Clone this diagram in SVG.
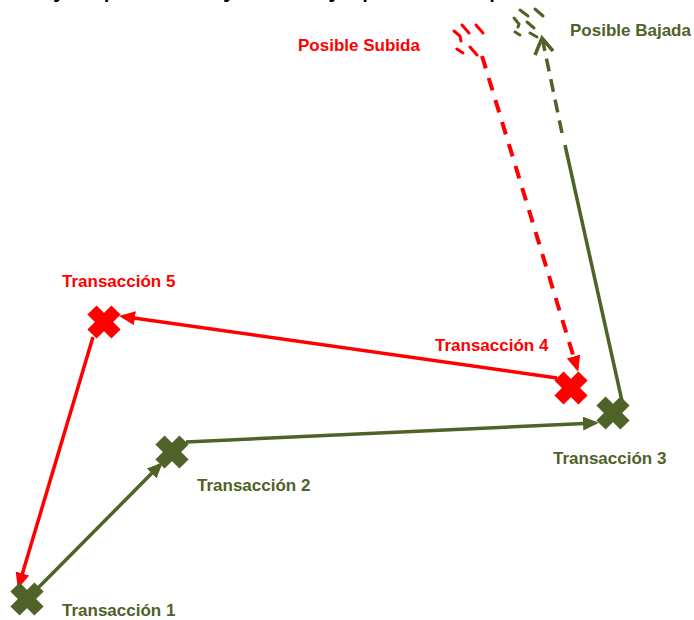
<svg xmlns="http://www.w3.org/2000/svg" width="694" height="620" viewBox="0 0 694 620">
<style>
.lbl{font-family:"Liberation Sans",Arial,sans-serif;font-weight:bold;font-size:17px}
.red{fill:#FF0000}
.grn{fill:#4F6228}
.sr{stroke:#FF0000;fill:none}
.sg{stroke:#4F6228;fill:none}
.title{font-family:"Liberation Sans",Arial,sans-serif;font-size:30px;fill:#000}
</style>
<defs>
<marker id="ar" markerUnits="userSpaceOnUse" markerWidth="17" markerHeight="15" refX="12" refY="7" orient="auto">
<path d="M0,0 L16,7 L0,14 z" fill="#FF0000"/>
</marker>
<marker id="ag" markerUnits="userSpaceOnUse" markerWidth="17" markerHeight="15" refX="12" refY="7" orient="auto">
<path d="M0,0 L16,7 L0,14 z" fill="#4F6228"/>
</marker>
<g id="xm">
<line x1="-12" y1="-12" x2="12" y2="12" stroke-width="13"/>
<line x1="-12" y1="12" x2="12" y2="-12" stroke-width="13"/>
</g>
</defs>
<text class="title" x="35" y="-4">Ejemplo de flujo de caja para una posición abierta de tasas</text>
<g id="connectors">
<line class="sg" x1="38" y1="588" x2="160" y2="465" stroke-width="3.5" marker-end="url(#ag)"/>
<line class="sg" x1="186" y1="442" x2="595" y2="423" stroke-width="3.5" marker-end="url(#ag)"/>
<line class="sg" x1="622" y1="401" x2="565" y2="145" stroke-width="3.5"/>
<line class="sg" x1="562" y1="133" x2="543" y2="42" stroke-width="3.5" stroke-dasharray="13 8"/>
<polyline class="sg" points="535,55 542,38 553,51" stroke-width="3.5"/>
<g class="sg" stroke-width="3" stroke-linecap="round">
<line x1="520" y1="10" x2="528" y2="16"/>
<line x1="535" y1="9" x2="543" y2="16"/>
<polyline points="514,18 519,24 518,27"/>
<line x1="527" y1="22" x2="534" y2="28"/>
<line x1="515" y1="32" x2="520" y2="35"/>
<line x1="530" y1="33" x2="537" y2="37"/>
</g>
<line class="sr" x1="482" y1="56" x2="577" y2="368" stroke-width="4" stroke-dasharray="13 10" marker-end="url(#ar)"/>
<g class="sr" stroke-width="3" stroke-linecap="round">
<polyline points="454,31 460,36 461,41"/>
<line x1="462" y1="25" x2="469" y2="33"/>
<line x1="476" y1="25" x2="483" y2="33"/>
<line x1="457" y1="49" x2="463" y2="53"/>
<line x1="470" y1="47" x2="477" y2="55"/>
</g>
<line class="sr" x1="557" y1="378" x2="123" y2="316.5" stroke-width="3.5" marker-end="url(#ar)"/>
<line class="sr" x1="93" y1="337" x2="19" y2="585" stroke-width="3.5" marker-end="url(#ar)"/>
</g>
<g id="t1"><use href="#xm" x="27" y="599" stroke="#4F6228"/><text class="lbl grn" x="62" y="616">Transacción 1</text></g>
<g id="t2"><use href="#xm" x="172" y="452" stroke="#4F6228"/><text class="lbl grn" x="197" y="491">Transacción 2</text></g>
<g id="t3"><use href="#xm" x="613" y="413" stroke="#4F6228"/><text class="lbl grn" x="553" y="464">Transacción 3</text></g>
<g id="t4"><use href="#xm" x="571" y="388" stroke="#FF0000"/><text class="lbl red" x="435" y="351">Transacción 4</text></g>
<g id="t5"><use href="#xm" x="104" y="322" stroke="#FF0000"/><text class="lbl red" x="62" y="287">Transacción 5</text></g>
<g id="subida"><text class="lbl red" x="298" y="51">Posible Subida</text></g>
<g id="bajada"><text class="lbl grn" x="570" y="36">Posible Bajada</text></g>
</svg>
